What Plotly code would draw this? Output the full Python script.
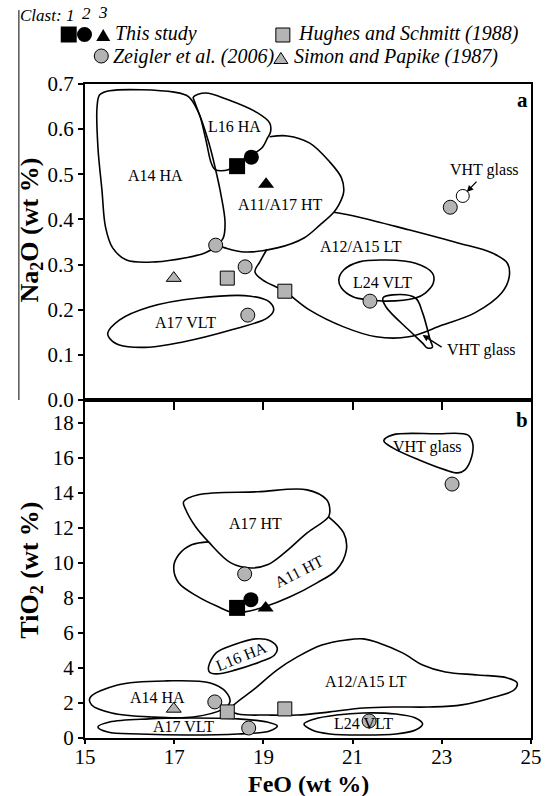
import plotly.graph_objects as go

# ---------------- data points ----------------
STUDY_FEO_A = [18.41, 18.73, 19.06]
STUDY_NA2O = [0.518, 0.538, 0.478]
STUDY_FEO_B = [18.41, 18.72, 19.05]
STUDY_TIO2 = [7.43, 7.90, 7.43]
STUDY_SYMBOLS = ["square", "circle", "triangle-up"]

ZEIGLER_FEO_A = [17.93, 18.59, 18.65, 21.39, 23.19]
ZEIGLER_NA2O = [0.343, 0.295, 0.188, 0.219, 0.427]
ZEIGLER_FEO_B = [17.91, 18.58, 18.67, 21.37, 23.23]
ZEIGLER_TIO2 = [2.06, 9.37, 0.57, 0.97, 14.5]

HUGHES_FEO = [18.19, 19.48]
HUGHES_NA2O = [0.270, 0.241]
HUGHES_TIO2 = [1.49, 1.66]

SIMON_FEO = [16.99]
SIMON_NA2O = [0.270]
SIMON_TIO2 = [1.66]

VHT_OPEN_FEO = [23.47]
VHT_OPEN_NA2O = [0.452]

# ---------------- field outlines, panel a (FeO vs Na2O) ----------------
A14HA_A_FEO = [15.55, 17.0, 17.32, 17.54, 17.77, 17.92, 18.05, 18.14, 18.10, 17.94, 17.70, 17.26, 16.59, 15.93, 15.62, 15.46, 15.38, 15.29, 15.27, 15.33]
A14HA_A_NA2O = [0.685, 0.682, 0.672, 0.638, 0.572, 0.514, 0.454, 0.394, 0.359, 0.341, 0.326, 0.315, 0.306, 0.310, 0.337, 0.383, 0.465, 0.560, 0.649, 0.676]

L16HA_A_FEO = [17.43, 17.70, 18.21, 18.87, 19.14, 19.16, 19.09, 18.98, 18.81, 18.58, 18.38, 18.21, 17.92, 17.83, 17.72, 17.59, 17.46]
L16HA_A_NA2O = [0.671, 0.680, 0.665, 0.636, 0.614, 0.594, 0.580, 0.560, 0.547, 0.532, 0.521, 0.510, 0.510, 0.525, 0.572, 0.625, 0.660]

A11A17HT_A_FEO = [19.14, 19.54, 20.04, 20.49, 20.75, 20.80, 20.69, 20.58, 20.27, 19.91, 19.31, 18.58, 18.14, 17.97]
A11A17HT_A_NA2O = [0.583, 0.585, 0.569, 0.527, 0.492, 0.461, 0.432, 0.416, 0.388, 0.359, 0.337, 0.328, 0.337, 0.343]

A12A15LT_A_FEO = [20.58, 21.15, 22.26, 23.36, 24.12, 24.47, 24.51, 24.34, 23.74, 23.01, 22.26, 21.53, 20.80, 20.04, 19.47, 18.98, 18.81, 18.92, 19.08]
A12A15LT_A_NA2O = [0.416, 0.405, 0.377, 0.348, 0.326, 0.303, 0.272, 0.237, 0.193, 0.166, 0.140, 0.140, 0.162, 0.199, 0.241, 0.266, 0.284, 0.306, 0.334]

L24VLT_A_FEO = [20.69, 20.80, 21.15, 21.75, 22.41, 22.79, 22.81, 22.63, 22.41, 21.75, 21.37, 21.02, 20.75]
L24VLT_A_NA2O = [0.266, 0.288, 0.306, 0.310, 0.303, 0.281, 0.259, 0.237, 0.226, 0.219, 0.222, 0.228, 0.248]

VHT_A_FEO = [21.68, 21.90, 22.41, 22.57, 22.74, 22.79, 22.68, 22.57, 22.26, 21.75]
VHT_A_NA2O = [0.226, 0.233, 0.226, 0.193, 0.133, 0.117, 0.115, 0.126, 0.155, 0.206]

A17VLT_A_FEO = [15.51, 15.77, 16.44, 17.54, 18.72, 19.14, 19.23, 19.09, 18.27, 17.17, 16.44, 15.77, 15.55]
A17VLT_A_NA2O = [0.148, 0.177, 0.206, 0.226, 0.230, 0.217, 0.199, 0.182, 0.155, 0.128, 0.117, 0.122, 0.137]

# ---------------- field outlines, panel b (FeO vs TiO2) ----------------
A17HT_B_FEO = [17.21, 17.54, 18.87, 19.98, 20.42, 20.49, 20.46, 19.98, 19.47, 19.09, 18.72, 18.27, 17.77, 17.48, 17.26]
A17HT_B_TIO2 = [13.49, 13.89, 14.06, 14.17, 13.60, 13.03, 12.63, 11.71, 10.57, 9.89, 9.71, 10.0, 11.2, 12.06, 13.03]

A11HT_B_FEO = [17.77, 17.39, 17.10, 16.99, 17.10, 17.54, 17.99, 18.27, 18.58, 19.03, 19.60, 20.20, 20.64, 20.86, 20.80, 20.46]
A11HT_B_TIO2 = [11.2, 11.03, 10.46, 9.77, 8.86, 8.06, 7.49, 7.2, 7.2, 7.49, 8.06, 8.86, 9.6, 10.74, 11.71, 12.63]

L16HA_B_FEO = [17.77, 17.94, 18.32, 18.83, 19.16, 19.31, 19.25, 18.92, 18.38, 17.94, 17.79]
L16HA_B_TIO2 = [4.06, 4.86, 5.31, 5.66, 5.54, 5.14, 4.74, 4.34, 3.89, 3.66, 3.77]

A14HA_B_FEO = [15.11, 15.73, 16.84, 17.81, 18.16, 18.25, 18.10, 17.43, 16.48, 15.60, 15.15]
A14HA_B_TIO2 = [2.29, 3.03, 3.26, 3.14, 2.63, 2.06, 1.66, 1.2, 1.2, 1.43, 1.89]

A17VLT_B_FEO = [15.29, 15.55, 16.44, 17.30, 18.43, 19.09, 19.31, 19.14, 18.43, 17.30, 16.22, 15.51]
A17VLT_B_TIO2 = [0.63, 0.91, 1.09, 1.14, 1.09, 0.91, 0.69, 0.40, 0.23, 0.17, 0.23, 0.34]

A12A15LT_B_FEO = [18.25, 18.83, 19.31, 19.76, 20.31, 20.86, 21.24, 21.59, 22.12, 22.57, 23.08, 23.81, 24.47, 24.69, 24.62, 24.18, 23.45, 22.70, 21.97, 21.24, 20.49, 19.76, 19.09, 18.43]
A12A15LT_B_TIO2 = [1.6, 2.86, 3.89, 4.63, 5.31, 5.6, 5.66, 5.43, 4.86, 4.17, 3.77, 3.6, 3.43, 3.14, 2.74, 2.34, 1.89, 1.77, 1.77, 1.71, 1.49, 1.31, 1.31, 1.37]

L24VLT_B_FEO = [19.91, 20.15, 20.64, 21.24, 21.97, 22.41, 22.57, 22.41, 21.97, 21.24, 20.49, 20.09]
L24VLT_B_TIO2 = [0.8, 1.09, 1.31, 1.43, 1.37, 1.14, 0.8, 0.46, 0.23, 0.17, 0.23, 0.46]

VHT_B_FEO = [21.70, 21.90, 22.85, 23.58, 23.69, 23.67, 23.52, 23.36, 23.08, 22.48, 21.90]
VHT_B_TIO2 = [16.97, 17.31, 17.37, 17.31, 16.86, 16.06, 15.31, 15.14, 15.31, 15.89, 16.57]

# ---------------- labels ----------------
LABELS_A = ["L16 HA", "A14 HA", "A11/A17 HT", "A12/A15 LT", "L24 VLT", "A17 VLT", "VHT glass", "VHT glass"]
LABELS_A_FEO = [18.36, 16.59, 19.38, 21.19, 21.68, 17.26, 23.96, 23.89]
LABELS_A_NA2O = [0.605, 0.498, 0.434, 0.339, 0.261, 0.171, 0.510, 0.111]

LABELS_B = ["A17 HT", "A11 HT", "L16 HA", "A14 HA", "A17 VLT", "A12/A15 LT", "L24 VLT", "VHT glass"]
LABELS_B_FEO = [18.83, 19.80, 18.50, 16.62, 17.21, 21.31, 21.24, 22.68]
LABELS_B_TIO2 = [12.23, 9.49, 4.63, 2.34, 0.63, 3.20, 0.80, 16.63]
LABELS_B_ANGLE = [0, -27, -22, 0, 0, 0, 0, 0]

X_TICKS = [15, 17, 19, 21, 23, 25]
NA2O_TICKS = [0.0, 0.1, 0.2, 0.3, 0.4, 0.5, 0.6, 0.7]
TIO2_TICKS = [0, 2, 4, 6, 8, 10, 12, 14, 16, 18]

FONT = "Liberation Serif"
GREY = "#b4b4b4"

fig = go.Figure()


def outline(xs, ys, axis, closed=True):
    if closed:
        xs = list(xs) + [xs[0]]
        ys = list(ys) + [ys[0]]
    fig.add_trace(go.Scatter(
        x=xs, y=ys, mode="lines", xaxis="x" + axis, yaxis="y" + axis,
        line=dict(color="black", width=1.6, shape="spline", smoothing=1.0),
        hoverinfo="skip", showlegend=False))


# panel a outlines
outline(A14HA_A_FEO, A14HA_A_NA2O, "")
outline(L16HA_A_FEO, L16HA_A_NA2O, "")
outline(A11A17HT_A_FEO, A11A17HT_A_NA2O, "", closed=False)
outline(A12A15LT_A_FEO, A12A15LT_A_NA2O, "", closed=False)
outline(L24VLT_A_FEO, L24VLT_A_NA2O, "")
outline(VHT_A_FEO, VHT_A_NA2O, "")
outline(A17VLT_A_FEO, A17VLT_A_NA2O, "")

# panel b outlines
outline(A17HT_B_FEO, A17HT_B_TIO2, "2")
outline(A11HT_B_FEO, A11HT_B_TIO2, "2", closed=False)
outline(L16HA_B_FEO, L16HA_B_TIO2, "2")
outline(A14HA_B_FEO, A14HA_B_TIO2, "2")
outline(A17VLT_B_FEO, A17VLT_B_TIO2, "2")
outline(A12A15LT_B_FEO, A12A15LT_B_TIO2, "2")
outline(L24VLT_B_FEO, L24VLT_B_TIO2, "2")
outline(VHT_B_FEO, VHT_B_TIO2, "2")


def points(xs, ys, axis, symbol, color, size, lw=1):
    fig.add_trace(go.Scatter(
        x=xs, y=ys, mode="markers", xaxis="x" + axis, yaxis="y" + axis,
        marker=dict(symbol=symbol, color=color, size=size, opacity=1,
                    line=dict(color="black", width=lw)),
        hoverinfo="skip", showlegend=False))


# panel a points
points(ZEIGLER_FEO_A, ZEIGLER_NA2O, "", "circle", GREY, 14)
points(HUGHES_FEO, HUGHES_NA2O, "", "square", GREY, 14)
points(SIMON_FEO, SIMON_NA2O, "", "triangle-up", GREY, 13)
points(VHT_OPEN_FEO, VHT_OPEN_NA2O, "", "circle", "white", 13)
points(STUDY_FEO_A, STUDY_NA2O, "", STUDY_SYMBOLS, "black", [16, 15, 14], 0)

# panel b points
points(ZEIGLER_FEO_B, ZEIGLER_TIO2, "2", "circle", GREY, 14)
points(HUGHES_FEO, HUGHES_TIO2, "2", "square", GREY, 14)
points(SIMON_FEO, SIMON_TIO2, "2", "triangle-up", GREY, 13)
points(STUDY_FEO_B, STUDY_TIO2, "2", STUDY_SYMBOLS, "black", [16, 15, 14], 0)

annotations = []
for t, x, y in zip(LABELS_A, LABELS_A_FEO, LABELS_A_NA2O):
    annotations.append(dict(text=t, x=x, y=y, xref="x", yref="y", showarrow=False,
                            xanchor="center", yanchor="middle",
                            font=dict(family=FONT, size=16, color="black")))
for t, x, y, a in zip(LABELS_B, LABELS_B_FEO, LABELS_B_TIO2, LABELS_B_ANGLE):
    annotations.append(dict(text=t, x=x, y=y, xref="x2", yref="y2", showarrow=False,
                            xanchor="center", yanchor="middle",
                            textangle=a, font=dict(family=FONT, size=16, color="black")))

# arrows to VHT glass
annotations.append(dict(text="", x=23.56, y=0.461, ax=23.81, ay=0.487, xref="x", yref="y",
                        axref="x", ayref="y", showarrow=True, arrowhead=2, arrowsize=1,
                        arrowwidth=1.3, arrowcolor="black"))
annotations.append(dict(text="", x=22.57, y=0.144, ax=23.03, ay=0.115, xref="x", yref="y",
                        axref="x", ayref="y", showarrow=True, arrowhead=2, arrowsize=1,
                        arrowwidth=1.3, arrowcolor="black"))


def paper_text(text, x, y, size, angle=0, xanchor="center"):
    annotations.append(dict(text=text, x=x, y=y, xref="paper", yref="paper",
                            xanchor=xanchor, yanchor="middle", showarrow=False,
                            textangle=angle,
                            font=dict(family=FONT, size=size, color="black")))


# axis titles
paper_text("<b>FeO (wt %)</b>", 0.5, -0.0700, 24)
paper_text("<b>Na<sub>2</sub>O (wt %)</b>", -0.1217, 0.777, 26, angle=-90)
paper_text("<b>TiO<sub>2</sub> (wt %)</b>", -0.1217, 0.257, 26, angle=-90)
# panel letters
paper_text("<b>a</b>", 0.980, 0.9755, 21)
paper_text("<b>b</b>", 0.980, 0.4862, 21)

# legend texts
paper_text("<i>This study</i>", 0.0619, 1.0765, 20, xanchor="left")
paper_text("<i>Hughes and Schmitt (1988)</i>", 0.4735, 1.0765, 20, xanchor="left")
paper_text("<i>Zeigler et al. (2006)</i>", 0.0575, 1.0420, 20, xanchor="left")
paper_text("<i>Simon and Papike (1987)</i>", 0.4646, 1.0420, 20, xanchor="left")
paper_text("<i>Clast:</i>", -0.1504, 1.104, 17, xanchor="left")
paper_text("<i>1</i>", -0.0332, 1.1055, 17)
paper_text("<i>2</i>", 0.0044, 1.1078, 17)
paper_text("<i>3</i>", 0.0398, 1.110, 17)

shapes = []


def leg_rect(x, y, half, fill, lw):
    shapes.append(dict(type="rect", xref="paper", yref="paper", xsizemode="pixel",
                       ysizemode="pixel", xanchor=x, yanchor=y, x0=-half, x1=half,
                       y0=-half, y1=half, fillcolor=fill, line=dict(color="black", width=lw)))


def leg_circle(x, y, half, fill, lw):
    shapes.append(dict(type="circle", xref="paper", yref="paper", xsizemode="pixel",
                       ysizemode="pixel", xanchor=x, yanchor=y, x0=-half, x1=half,
                       y0=-half, y1=half, fillcolor=fill, line=dict(color="black", width=lw)))


def leg_tri(x, y, w, h, fill, lw):
    shapes.append(dict(type="path", xref="paper", yref="paper", xsizemode="pixel",
                       ysizemode="pixel", xanchor=x, yanchor=y,
                       path=f"M{-w/2},{-h/2} L{w/2},{-h/2} L0,{h/2} Z",
                       fillcolor=fill, line=dict(color="black", width=lw)))


leg_rect(-0.0365, 1.0757, 8, "black", 0)
leg_circle(-0.0011, 1.0757, 7.5, "black", 0)
leg_tri(0.0409, 1.0749, 14, 12, "black", 0)
leg_rect(0.4436, 1.0749, 7, GREY, 1)
leg_circle(0.0365, 1.0428, 7, GREY, 1)
leg_tri(0.4392, 1.0398, 14, 11, GREY, 1)

# vertical rule at the left of the figure
shapes.append(dict(type="line", xref="paper", yref="paper", x0=-0.1482, x1=-0.1482,
                   y0=0.5168, y1=1.113, line=dict(color="black", width=1)))

TICKFONT = dict(family=FONT, size=21, color="black")
SPLIT = 0.5168

fig.update_layout(
    width=554, height=796,
    margin=dict(l=85, r=17, t=84, b=58),
    paper_bgcolor="white", plot_bgcolor="white",
    showlegend=False,
    font=dict(family=FONT, color="black"),
    xaxis=dict(domain=[0, 1], range=[15, 25], anchor="y", tickvals=X_TICKS[1:-1],
               showticklabels=False, ticks="outside", ticklen=8, tickwidth=1.5,
               tickcolor="black", showline=True, linecolor="black", linewidth=1.6,
               mirror=True, showgrid=False, zeroline=False),
    yaxis=dict(domain=[SPLIT, 1], range=[0, 0.7], anchor="x", tickvals=NA2O_TICKS,
               tickformat=".1f", ticks="outside", ticklen=5, tickwidth=1.5,
               tickcolor="black", tickfont=TICKFONT, showline=True, linecolor="black",
               linewidth=2, mirror=True, showgrid=False, zeroline=False),
    xaxis2=dict(domain=[0, 1], range=[15, 25], anchor="y2", tickvals=X_TICKS,
                ticks="outside", ticklen=4, tickwidth=1.5, tickcolor="black",
                ticklabelstandoff=-5,
                tickfont=TICKFONT, showline=True, linecolor="black", linewidth=1.6,
                mirror=True, showgrid=False, zeroline=False),
    yaxis2=dict(domain=[0, SPLIT], range=[0, 19.3], anchor="x2", tickvals=TIO2_TICKS,
                ticks="outside", ticklen=5, tickwidth=1.5, tickcolor="black",
                tickfont=TICKFONT, showline=True, linecolor="black", linewidth=2,
                mirror=True, showgrid=False, zeroline=False),
    annotations=annotations,
    shapes=shapes,
)

fig.write_html("out.html")
